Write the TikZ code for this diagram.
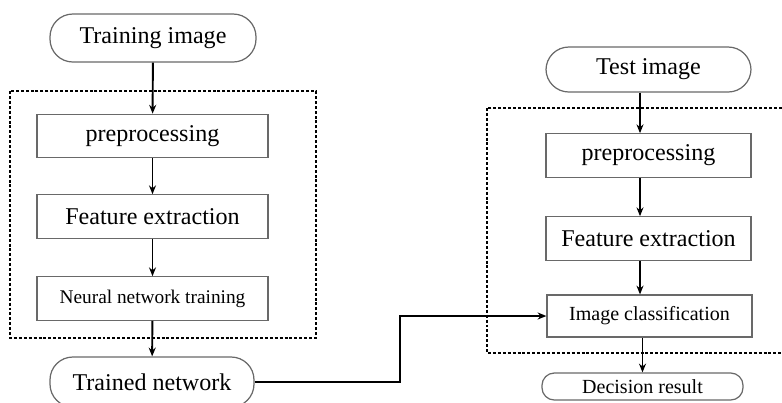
\documentclass[tikz,border=0pt]{standalone}
\usepackage{fontspec}
\setmainfont{Liberation Serif}
\usepackage{tikz}
\usetikzlibrary{arrows.meta, positioning}
\definecolor{boxGray}{RGB}{105,105,105}

\begin{document}
\begin{tikzpicture}[
  stepbox/.style={rectangle, draw=boxGray, line width=0.7pt, minimum width=4.62cm,
                  minimum height=0.87cm, font=\fontsize{13.7}{16}\selectfont, align=center},
  term/.style={rectangle, rounded corners=13pt, draw=boxGray, line width=0.7pt,
               minimum width=4.12cm, minimum height=0.96cm, font=\fontsize{13.7}{16}\selectfont},
  smalltext/.style={font=\fontsize{11.4}{14}\selectfont},
  group/.style={draw, line width=1pt, dash pattern=on 1.7pt off 1.1pt},
  arrow/.style={-{Stealth[length=5pt, width=4pt]}, line width=1.1pt}
]
\useasboundingbox (0,0) rectangle (15.64,-8.04);
\clip (0,0) rectangle (15.64,-8.04);

% Training side
\node[term] (train) at (3.06,-0.76) {Training image};
\draw[group] (0.2,-1.82) rectangle (6.32,-6.76);
\node[stepbox] (pre1) at (3.05,-2.72) {preprocessing};
\node[stepbox] (feat1) at (3.05,-4.33) {Feature extraction};
\node[stepbox, smalltext, font=\fontsize{11}{13}\selectfont] (nn) at (3.05,-5.97) {Neural network training};
\node[term, minimum width=4.08cm, minimum height=1.0cm] (trained) at (3.04,-7.64) {Trained network};

\draw[arrow] (train) -- (pre1);
\draw[arrow] (pre1) -- (feat1);
\draw[arrow] (feat1) -- (nn);
\draw[arrow] (nn) -- (trained);

% Test side
\node[term, minimum width=4.1cm, minimum height=0.9cm] (test) at (12.97,-1.39) {Test image};
\draw[group] (9.74,-2.16) rectangle (16.2,-7.06);
\node[stepbox, minimum width=4.1cm] (pre2) at (12.97,-3.11) {preprocessing};
\node[stepbox, minimum width=4.1cm] (feat2) at (12.97,-4.77) {Feature extraction};
\node[stepbox, minimum width=4.1cm, minimum height=0.84cm, smalltext] (cls) at (12.99,-6.32) {Image classification};
\node[term, minimum width=4.02cm, minimum height=0.54cm, rounded corners=7pt, smalltext] (dec) at (12.85,-7.73) {Decision result};

\coordinate (rx) at (12.8,0);
\draw[arrow] (rx |- test.south) -- (rx |- pre2.north);
\draw[arrow] (rx |- pre2.south) -- (rx |- feat2.north);
\draw[arrow] (rx |- feat2.south) -- (rx |- cls.north);
\draw[arrow] (dec.north |- cls.south) -- (dec.north);

% trained network feeds the classifier
\coordinate (bend) at (8.0,0);
\draw[arrow] (trained.east) -| (bend |- cls.west) -- (cls.west);

\end{tikzpicture}
\end{document}
